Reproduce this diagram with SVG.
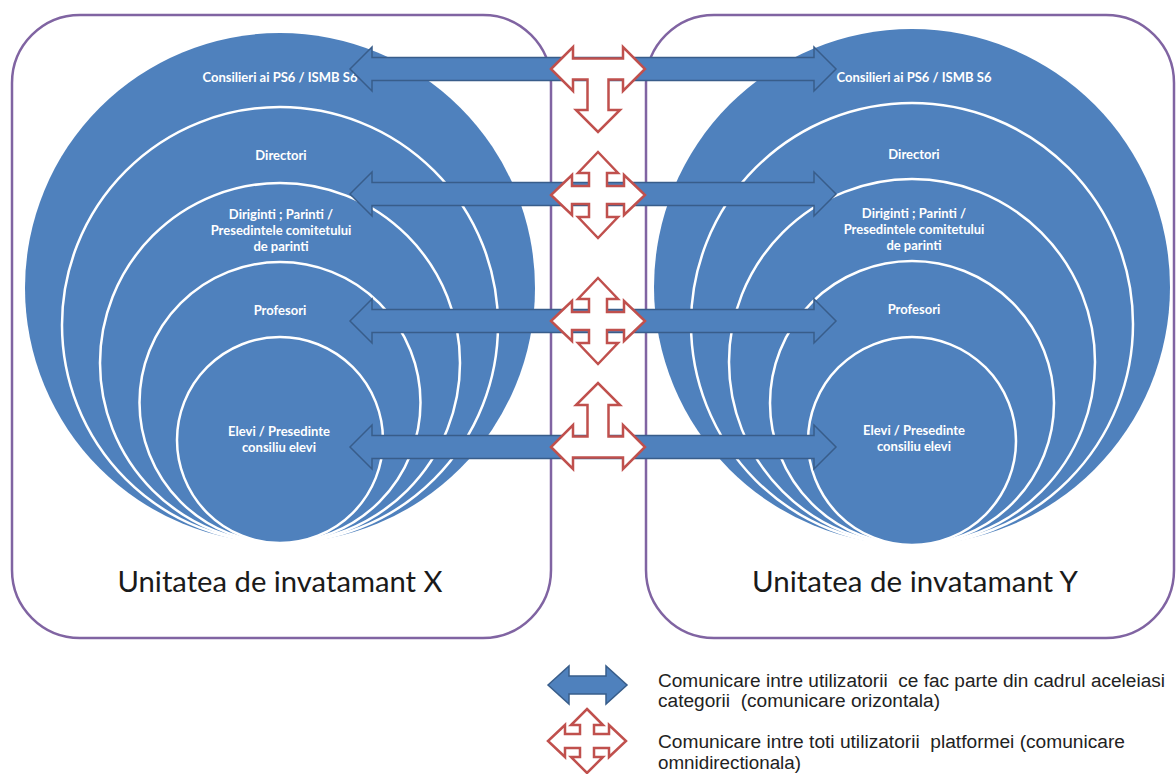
<svg xmlns="http://www.w3.org/2000/svg" xmlns:xlink="http://www.w3.org/1999/xlink" width="1176" height="774" viewBox="0 0 1176 774">
<style>
.frame{fill:#fff;stroke:#8064A2;stroke-width:2.5}
.outer{fill:#4F81BD}
.inner{fill:#4F81BD;stroke:#fff;stroke-width:2.5}
.lbl{font-family:Lato,"Open Sans","Liberation Sans",sans-serif;font-weight:bold;font-size:13px;fill:#fff;text-anchor:middle}
.unit{font-family:Lato,"Open Sans","Liberation Sans",sans-serif;font-size:28px;fill:#1a1a1a;text-anchor:middle}
.blue{fill:#4F81BD;stroke:#385D8A;stroke-width:1.5;stroke-linejoin:miter}
.red{fill:#fff;stroke:#C0504D;stroke-width:2.5;stroke-linejoin:miter}
.leg{font-family:"Liberation Sans",Arial,sans-serif;font-size:18px;fill:#222;white-space:pre}
</style>
<defs>
<path id="hArrow" d="M350,0 L372,-22 L372,-11.5 L814,-11.5 L814,-22 L836,0 L814,22 L814,11.5 L372,11.5 L372,22 Z"/>
<path id="quad" d="M0,-43 L20,-22 L9,-22 L9,-9 L26,-9 L26,-20 L47,0 L26,20 L26,9 L9,9 L9,22 L20,22 L0,43 L-20,22 L-9,22 L-9,9 L-26,9 L-26,20 L-47,0 L-26,-20 L-26,-9 L-9,-9 L-9,-22 L-20,-22 Z"/>
<path id="tDown" d="M-47,0 L-25,-22 L-25,-10.5 L25,-10.5 L25,-22 L47,0 L25,22 L25,10.5 L10.5,10.5 L10.5,41 L22,41 L0,63 L-22,41 L-10.5,41 L-10.5,10.5 L-25,10.5 L-25,22 Z"/>
<path id="tUp" d="M-47,0 L-25,22 L-25,10.5 L25,10.5 L25,22 L47,0 L25,-22 L25,-10.5 L10.5,-10.5 L10.5,-42 L22,-42 L0,-64 L-22,-42 L-10.5,-42 L-10.5,-10.5 L-25,-10.5 L-25,-22 Z"/>
</defs>

<g id="unit-x">
<rect class="frame" x="12" y="15" width="539" height="623" rx="68" ry="68"/>
<circle class="outer" cx="280" cy="288" r="255"/>
<circle class="inner" cx="280" cy="325" r="218"/>
<circle class="inner" cx="280" cy="363" r="180"/>
<circle class="inner" cx="280" cy="402.5" r="140.5"/>
<circle class="inner" cx="280" cy="440" r="103"/>
<text class="lbl" x="280" y="82">Consilieri ai PS6 / ISMB S6</text>
<text class="lbl" x="281" y="160">Directori</text>
<text class="lbl" x="281" y="219">Diriginti ; Parinti /</text>
<text class="lbl" x="281" y="235">Presedintele comitetului</text>
<text class="lbl" x="281" y="251">de parinti</text>
<text class="lbl" x="280" y="315">Profesori</text>
<text class="lbl" x="279" y="436">Elevi / Presedinte</text>
<text class="lbl" x="279" y="452">consiliu elevi</text>
<text class="unit" x="280" y="592" textLength="325" lengthAdjust="spacingAndGlyphs">Unitatea de invatamant X</text>
</g>

<g id="unit-y">
<rect class="frame" x="646" y="15" width="528" height="623" rx="68" ry="68"/>
<circle class="outer" cx="912" cy="287" r="258"/>
<circle class="inner" cx="912" cy="324" r="221"/>
<circle class="inner" cx="912" cy="362" r="183"/>
<circle class="inner" cx="912" cy="403" r="142"/>
<circle class="inner" cx="912" cy="441" r="104"/>
<text class="lbl" x="914" y="82">Consilieri ai PS6 / ISMB S6</text>
<text class="lbl" x="914" y="159">Directori</text>
<text class="lbl" x="914" y="218">Diriginti ; Parinti /</text>
<text class="lbl" x="914" y="234">Presedintele comitetului</text>
<text class="lbl" x="914" y="250">de parinti</text>
<text class="lbl" x="914" y="314">Profesori</text>
<text class="lbl" x="914" y="435">Elevi / Presedinte</text>
<text class="lbl" x="914" y="451">consiliu elevi</text>
<text class="unit" x="915" y="592" textLength="326" lengthAdjust="spacingAndGlyphs">Unitatea de invatamant Y</text>
</g>

<g id="connectors">
<use xlink:href="#hArrow" class="blue" y="69"/>
<use xlink:href="#hArrow" class="blue" y="194"/>
<use xlink:href="#hArrow" class="blue" y="321"/>
<use xlink:href="#hArrow" class="blue" y="447"/>
<use xlink:href="#tDown" class="red" x="598" y="69"/>
<use xlink:href="#quad" class="red" x="598" y="195"/>
<use xlink:href="#quad" class="red" x="598" y="321"/>
<use xlink:href="#tUp" class="red" x="598" y="447"/>
</g>

<g id="legend">
<path class="blue" d="M548,685 L569,666 L569,676 L606,676 L606,666 L627,685 L606,704 L606,694 L569,694 L569,704 Z"/>
<path class="red" transform="translate(587,741)" d="M0,-32 L16,-16 L7,-16 L7,-7 L22,-7 L22,-16 L39,0 L22,16 L22,7 L7,7 L7,16 L16,16 L0,32 L-16,16 L-7,16 L-7,7 L-22,7 L-22,16 L-39,0 L-22,-16 L-22,-7 L-7,-7 L-7,-16 L-16,-16 Z"/>
<text class="leg" x="658" y="687" textLength="507" lengthAdjust="spacingAndGlyphs">Comunicare intre utilizatorii  ce fac parte din cadrul aceleiasi</text>
<text class="leg" x="658" y="707" textLength="282" lengthAdjust="spacingAndGlyphs">categorii  (comunicare orizontala)</text>
<text class="leg" x="658" y="748" textLength="467" lengthAdjust="spacingAndGlyphs">Comunicare intre toti utilizatorii  platformei (comunicare</text>
<text class="leg" x="658" y="769" textLength="143" lengthAdjust="spacingAndGlyphs">omnidirectionala)</text>
</g>
</svg>
